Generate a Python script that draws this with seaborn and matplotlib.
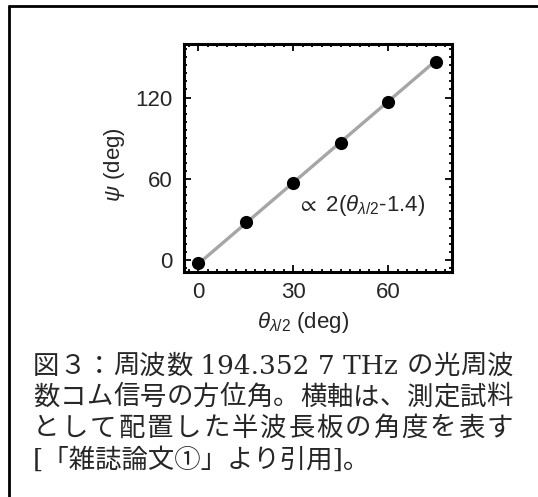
import numpy as np
import pandas as pd
import seaborn as sns
import matplotlib.pyplot as plt
from matplotlib.lines import Line2D
from matplotlib.ticker import MultipleLocator

# measured points (half-wave plate angle vs. azimuth)
theta = [0, 15, 30, 45, 60, 75]
psi = [-2.5, 28, 57, 86.5, 117, 146.5]

# linear fit  psi = 2 (theta - 1.4)
fit_theta = [0, 75]
fit_psi = [-2.8, 147.2]

# caption, split into pieces that get spread over the full line width
caption_line1 = ['図', '３', '：', '周', '波', '数', ' 194.352 7 THz ', 'の', '光', '周', '波']
caption_line2 = list('数コム信号の方位角。横軸は、測定試料')
caption_line3 = list('として配置した半波長板の角度を表す')
caption_line4 = '[「雑誌論文①」より引用]。'

sns.set_style('ticks')
plt.rcParams['font.family'] = ['Liberation Sans', 'DejaVu Sans']
plt.rcParams['mathtext.fontset'] = 'custom'
plt.rcParams['mathtext.rm'] = 'Liberation Sans'
plt.rcParams['mathtext.it'] = 'Liberation Sans:italic'
plt.rcParams['mathtext.fallback'] = 'stixsans'

W, H = 538, 497
fig = plt.figure(figsize=(W / 100, H / 100), dpi=100)
ax = fig.add_axes([184 / W, 1 - 272.3 / H, (452.3 - 184) / W, (272.3 - 44) / H])

df = pd.DataFrame({'theta': theta, 'psi': psi})
fit = pd.DataFrame({'theta': fit_theta, 'psi': fit_psi})

sns.lineplot(data=fit, x='theta', y='psi', color='#a6a6a6', linewidth=2.4, ax=ax, zorder=2)
sns.scatterplot(data=df, x='theta', y='psi', color='black', s=90, edgecolor='black',
                linewidth=0, ax=ax, zorder=3)

ax.set_xlim(-4.5, 80.2)
ax.set_ylim(-9, 159.5)
ax.xaxis.set_major_locator(MultipleLocator(30))
ax.xaxis.set_minor_locator(MultipleLocator(3))
ax.yaxis.set_major_locator(MultipleLocator(60))
ax.yaxis.set_minor_locator(MultipleLocator(6))
ax.tick_params(which='both', direction='in', top=True, right=True, width=1.3,
               color='black', labelsize=16)
ax.tick_params(which='major', length=5)
ax.tick_params(which='minor', length=2.5)
ax.tick_params(axis='x', pad=7)
ax.tick_params(axis='y', pad=8)
for sp in ax.spines.values():
    sp.set_linewidth(2.2)
    sp.set_color('black')

ax.set_xlabel(r'$\theta_{\lambda/2}$ (deg)', fontsize=16)
ax.set_ylabel(r'$\psi$ (deg)', fontsize=16)
ax.xaxis.set_label_coords(0.444, -0.165)
ax.yaxis.set_label_coords(-0.212, 0.47)

ax.text(71.6, 40.5, r'$\propto$ 2($\theta_{\lambda/2}$-1.4)', fontsize=16,
        ha='right', va='center')

# outer frame (only left and top edges visible)
fig.add_artist(Line2D([9 / W, 9 / W], [0, 1 - 6 / H], transform=fig.transFigure,
                      color='black', linewidth=2))
fig.add_artist(Line2D([9 / W, 1], [1 - 6 / H, 1 - 6 / H], transform=fig.transFigure,
                      color='black', linewidth=2))

cap_font = ['DejaVu Serif', 'Noto Sans CJK JP']
x0, x1 = 33, 513
renderer = fig.canvas.get_renderer()


def justified(pieces, yc):
    texts = [fig.text(0, 1 - yc / H, p, fontsize=19, family=cap_font,
                      ha='left', va='center') for p in pieces]
    widths = [t.get_window_extent(renderer).width for t in texts]
    gap = (x1 - x0 - sum(widths)) / (len(pieces) - 1)
    x = x0
    for t, w in zip(texts, widths):
        t.set_x(x / W)
        x += w + gap


justified(caption_line1, 366)
justified(caption_line2, 397)
justified(caption_line3, 428)
fig.text(x0 / W, 1 - 460 / H, caption_line4, fontsize=19, family=cap_font,
         ha='left', va='center')

fig.savefig('out.png', dpi=100)
